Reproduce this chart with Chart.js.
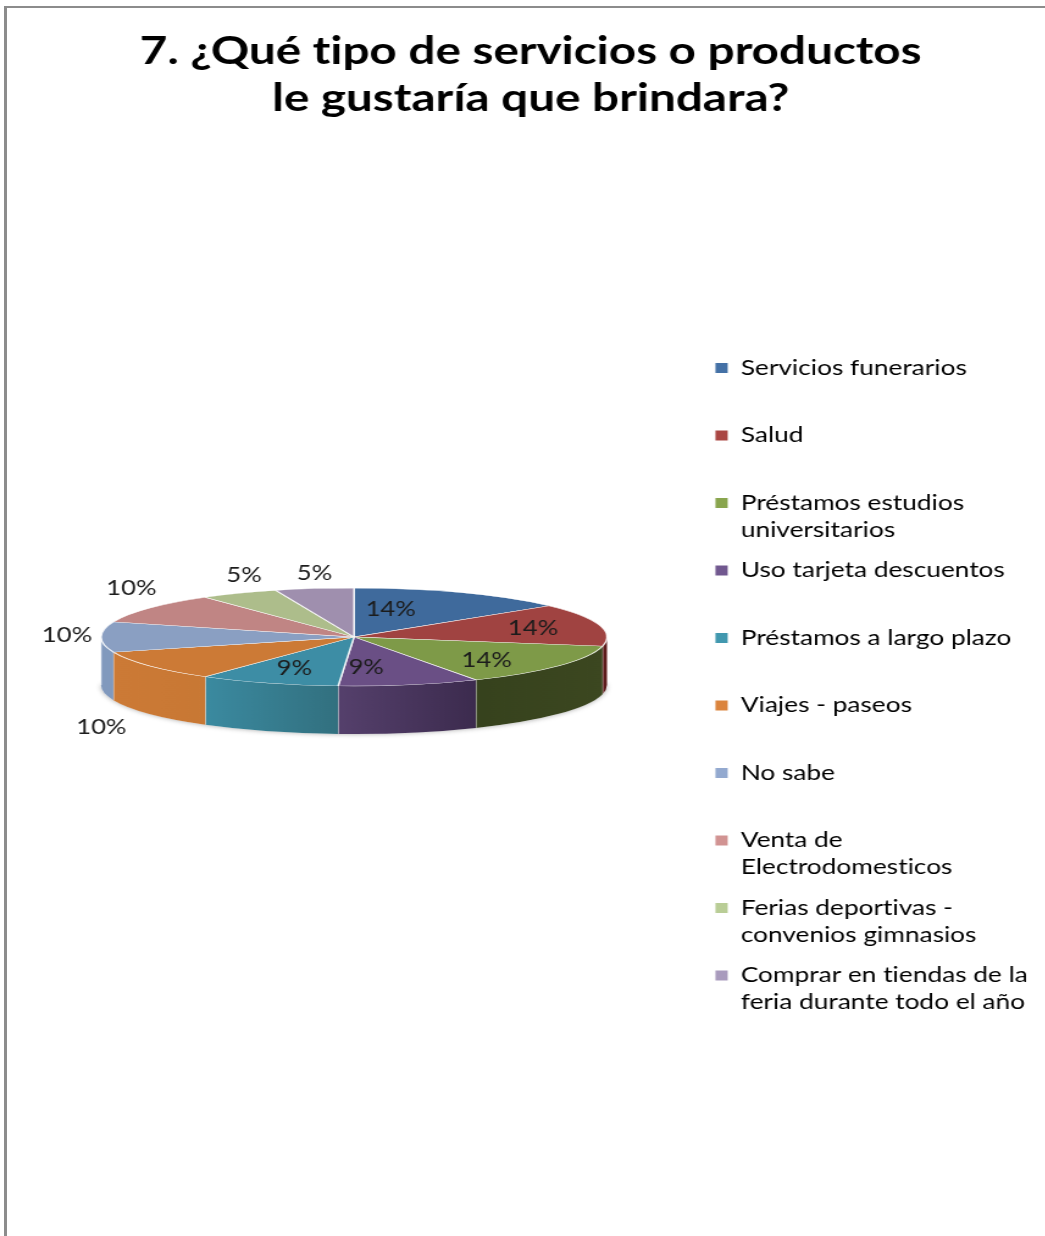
<!DOCTYPE html>
<html>
<head>
    <title>Servicios o productos</title>
    <script src="https://cdn.jsdelivr.net/npm/chart.js"></script>
    <style>
        html, body {
            margin: 0;
            background: #fff;
            overflow: hidden;
        }
        .frame {
            position: absolute;
            left: 4px;
            top: 6px;
            right: 0;
            bottom: 0;
            border-left: 3px solid #8c8c8c;
            border-top: 2px solid #8c8c8c;
        }
        #chart {
            position: absolute;
            left: 0;
            top: 0;
            transform-origin: 0 0;
        }
    </style>
</head>
<body>
<div class="frame"></div>
<canvas id="chart"></canvas>
<script>
    const titleLines = ['7. ¿Qué tipo de servicios o productos', 'le gustaría que brindara?'];

    const categories = [
        ['Servicios funerarios', ''],
        ['Salud', ''],
        ['Préstamos estudios', 'universitarios'],
        ['Uso tarjeta descuentos', ''],
        ['Préstamos a largo plazo', ''],
        ['Viajes - paseos', ''],
        ['No sabe', ''],
        ['Venta de', 'Electrodomesticos'],
        ['Ferias deportivas -', 'convenios gimnasios'],
        ['Comprar en tiendas de la', 'feria durante todo el año']
    ];
    const percentages = [14, 14, 14, 9, 9, 10, 10, 10, 5, 5];

    const topColors = ['#3f6a9c', '#a04341', '#7e9a48', '#6a4f85', '#3d8da5', '#cc7a36', '#8a9fc2', '#c08584', '#adbd8b', '#9f8fae'];
    const legendColors = ['#4471a6', '#aa4643', '#89a54e', '#71588f', '#4198af', '#db843d', '#93a9cf', '#d19392', '#b9cd96', '#a99bbd'];
    // left and right colour of each slice's outer wall
    const wallColors = [
        ['#33557c', '#33557c'], ['#5c1a1a', '#5c1a1a'], ['#36421d', '#3c4720'], ['#55406c', '#3c2b4e'], ['#3b8aa0', '#32707f'],
        ['#cc7a36', '#c87834'], ['#8199bd', '#8199bd'], ['#c08584', '#c08584'], ['#adbd8b', '#adbd8b'], ['#9f8fae', '#9f8fae']
    ];

    // the whole canvas is drawn narrow and widened with CSS, which gives the wide lettering
    const stretch = 1.22;
    const canvas = document.getElementById('chart');
    canvas.width = Math.round(1045 / stretch);
    canvas.height = 1236;
    canvas.style.transform = 'scaleX(' + stretch + ')';

    // the pie lies flat: its circle is squashed to an ellipse and given a wall
    const pieCenter = { x: 354 / stretch, y: 637 };
    const pieRadius = 253 / stretch;
    const tilt = 49 / pieRadius;
    const wallDepth = 48;

    // label offset from the rim point at the middle of each slice
    const labelShift = [[-71, 17], [-66, 3], [-72, -6], [-43, -18], [26, -15], [-48, 61], [-34, -2], [-18, -20], [5, -18], [0, -15]];

    const flatPie = {
        id: 'flatPie',
        beforeDraw(chart) {
            // a non-zero spacing keeps Lato from joining "ti" into a ligature
            chart.ctx.letterSpacing = '0.01px';
        },
        beforeDatasetsDraw(chart) {
            const ctx = chart.ctx;
            const arcs = chart.getDatasetMeta(0).data;
            drawWallShadow(ctx);
            arcs.forEach((arc, i) => drawWall(ctx, arc, i));

            ctx.save();
            ctx.translate(pieCenter.x, pieCenter.y);
            ctx.scale(1, tilt);
            ctx.translate(-arcs[0].x, -arcs[0].y);
        },
        afterDatasetsDraw(chart) {
            const ctx = chart.ctx;
            ctx.restore();

            ctx.save();
            ctx.font = '21px Lato';
            ctx.fillStyle = '#1c1c1c';
            ctx.textAlign = 'center';
            ctx.textBaseline = 'middle';
            chart.getDatasetMeta(0).data.forEach((arc, i) => {
                const mid = (arc.startAngle + arc.endAngle) / 2;
                const x = pieCenter.x + pieRadius * Math.cos(mid) + labelShift[i][0] / stretch;
                const y = pieCenter.y + pieRadius * tilt * Math.sin(mid) + labelShift[i][1];
                ctx.fillText(percentages[i] + '%', x, y);
            });
            ctx.restore();
        }
    };

    // soft edge under the left and right ends of the wall
    function drawWallShadow(ctx) {
        ctx.save();
        ctx.shadowColor = 'rgba(0, 0, 0, 0.35)';
        ctx.shadowBlur = 5;
        ctx.fillStyle = '#fff';
        ctx.beginPath();
        ctx.ellipse(pieCenter.x, pieCenter.y + wallDepth, pieRadius, pieRadius * tilt, 0, 0, Math.PI);
        ctx.closePath();
        ctx.fill();
        ctx.restore();
    }

    // only the part of a slice between 0 and PI faces the viewer
    function drawWall(ctx, arc, i) {
        const from = Math.max(arc.startAngle, 0);
        const to = Math.min(arc.endAngle, Math.PI);
        if (to <= from) {
            return;
        }
        const rx = pieRadius;
        const ry = pieRadius * tilt;
        const { x, y } = pieCenter;
        const leftX = x + rx * Math.cos(to);
        const rightX = x + rx * Math.cos(from);

        const fill = ctx.createLinearGradient(leftX, 0, rightX, 0);
        fill.addColorStop(0, wallColors[i][0]);
        fill.addColorStop(1, wallColors[i][1]);

        ctx.save();
        ctx.beginPath();
        ctx.ellipse(x, y, rx, ry, 0, from, to);
        ctx.ellipse(x, y + wallDepth, rx, ry, 0, to, from, true);
        ctx.closePath();
        ctx.fillStyle = fill;
        ctx.fill();
        ctx.strokeStyle = 'rgba(255, 255, 255, 0.75)';
        ctx.lineWidth = 1;
        ctx.beginPath();
        ctx.moveTo(leftX, y + ry * Math.sin(to));
        ctx.lineTo(leftX, y + ry * Math.sin(to) + wallDepth);
        ctx.stroke();
        ctx.restore();
    }

    new Chart(canvas, {
        type: 'pie',
        data: {
            labels: categories,
            datasets: [{
                data: percentages,
                backgroundColor: topColors,
                borderColor: 'rgba(255, 255, 255, 0.85)',
                borderWidth: 1.5,
                radius: pieRadius
            }]
        },
        plugins: [flatPie],
        options: {
            responsive: false,
            animation: false,
            layout: {
                padding: { left: 20, right: 7 }
            },
            plugins: {
                tooltip: { enabled: false },
                title: {
                    display: true,
                    text: titleLines,
                    color: '#000',
                    font: { family: 'Lato', size: 39, weight: 'bold', lineHeight: 47 / 39 },
                    padding: { top: 28, bottom: 18 }
                },
                legend: {
                    position: 'right',
                    align: 'center',
                    fullSize: false,
                    labels: {
                        color: '#262626',
                        font: { family: 'Lato', size: 21.5, lineHeight: 27 / 21.5 },
                        boxWidth: 10,
                        boxHeight: 10,
                        padding: 13.5,
                        generateLabels(chart) {
                            return categories.map((text, i) => ({
                                text: text,
                                fillStyle: legendColors[i],
                                strokeStyle: legendColors[i],
                                lineWidth: 0,
                                index: i
                            }));
                        }
                    }
                }
            }
        }
    });
</script>
</body>
</html>
